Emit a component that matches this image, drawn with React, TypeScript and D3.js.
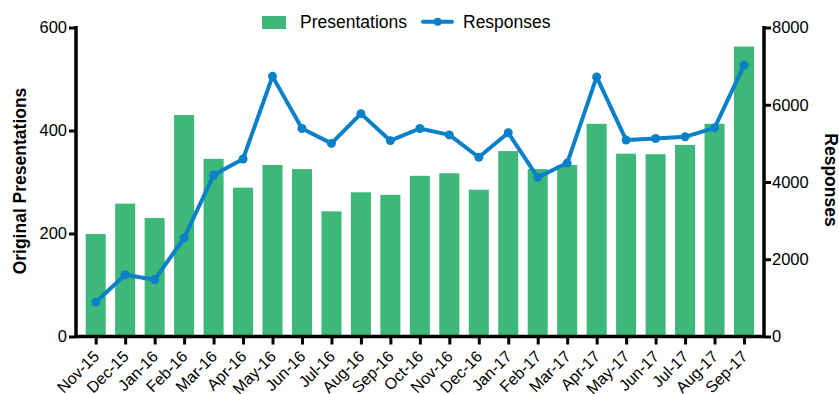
import React, { useEffect, useRef } from "react";
import * as d3 from "d3";

const months = [
  "Nov-15", "Dec-15", "Jan-16", "Feb-16", "Mar-16", "Apr-16", "May-16", "Jun-16",
  "Jul-16", "Aug-16", "Sep-16", "Oct-16", "Nov-16", "Dec-16", "Jan-17", "Feb-17",
  "Mar-17", "Apr-17", "May-17", "Jun-17", "Jul-17", "Aug-17", "Sep-17",
];

const presentations = [
  199, 258, 230, 430, 345, 289, 333, 325, 243, 280, 275, 312, 317, 285, 360, 325,
  333, 413, 355, 354, 372, 413, 563,
];

const responses = [
  885, 1600, 1470, 2550, 4180, 4595, 6735, 5385, 5000, 5770, 5070, 5385, 5220, 4640,
  5275, 4120, 4490, 6720, 5085, 5125, 5170, 5400, 7020,
];

const leftTicks = [0, 200, 400, 600];
const rightTicks = [0, 2000, 4000, 6000, 8000];

const W = 839;
const H = 394;
const FONT = "'Liberation Sans', Arial, Helvetica, sans-serif";
const GREEN = "#3db878";
const BLUE = "#0a80c8";

export default function App() {
  const ref = useRef<SVGSVGElement | null>(null);

  useEffect(() => {
    const svg = d3.select(ref.current);
    svg.selectAll("*").remove();

    const axisLeftX = 76;
    const axisRightX = 764;
    const yBottom = 336.5;
    const yTop = 27.5;

    const x = d3.scalePoint<string>().domain(months).range([95.7, 744]);
    const step = x.step();
    const barW = step * 0.68;

    const yL = d3.scaleLinear().domain([0, 600]).range([yBottom, yTop]);
    const yR = d3.scaleLinear().domain([0, 8000]).range([yBottom, yTop]);

    const g = svg.append("g").attr("font-family", FONT);

    // bars
    g.selectAll("rect.bar")
      .data(presentations)
      .enter()
      .append("rect")
      .attr("class", "bar")
      .attr("x", (_d, i) => (x(months[i]) as number) - barW / 2)
      .attr("width", barW)
      .attr("y", (d) => yL(d))
      .attr("height", (d) => yBottom - yL(d))
      .attr("fill", GREEN);

    // line + markers
    const line = d3
      .line<number>()
      .x((_d, i) => x(months[i]) as number)
      .y((d) => yR(d));

    g.append("path")
      .datum(responses)
      .attr("d", line)
      .attr("fill", "none")
      .attr("stroke", BLUE)
      .attr("stroke-width", 4)
      .attr("stroke-linejoin", "round");

    g.selectAll("circle.pt")
      .data(responses)
      .enter()
      .append("circle")
      .attr("class", "pt")
      .attr("cx", (_d, i) => x(months[i]) as number)
      .attr("cy", (d) => yR(d))
      .attr("r", 4.5)
      .attr("fill", BLUE);

    // left axis
    const left = g.append("g").attr("transform", `translate(${axisLeftX},0)`);
    left
      .call(d3.axisLeft(yL).tickValues(leftTicks).tickSize(7).tickPadding(2))
      .call((s) => s.select(".domain").remove());
    left.selectAll(".tick line").attr("stroke", "#000").attr("stroke-width", 3);
    left
      .selectAll(".tick text")
      .attr("font-size", 16.5)
      .attr("font-family", FONT)
      .attr("fill", "#000");
    left
      .append("line")
      .attr("x1", 0)
      .attr("x2", 0)
      .attr("y1", yTop - 1.5)
      .attr("y2", yBottom + 1.5)
      .attr("stroke", "#000")
      .attr("stroke-width", 3.5);

    // right axis
    const right = g.append("g").attr("transform", `translate(${axisRightX},0)`);
    right
      .call(d3.axisRight(yR).tickValues(rightTicks).tickFormat(d3.format("d")).tickSize(7).tickPadding(1))
      .call((s) => s.select(".domain").remove());
    right.selectAll(".tick line").attr("stroke", "#000").attr("stroke-width", 3);
    right
      .selectAll(".tick text")
      .attr("font-size", 16.5)
      .attr("font-family", FONT)
      .attr("fill", "#000");
    right
      .append("line")
      .attr("x1", 0)
      .attr("x2", 0)
      .attr("y1", yTop - 1.5)
      .attr("y2", yBottom + 1.5)
      .attr("stroke", "#000")
      .attr("stroke-width", 3.5);

    // bottom axis
    const bottom = g.append("g").attr("transform", `translate(0,${yBottom})`);
    bottom
      .call(d3.axisBottom(x).tickSize(8).tickSizeOuter(0))
      .call((s) => s.select(".domain").remove());
    bottom.selectAll(".tick line").attr("stroke", "#000").attr("stroke-width", 3);
    bottom
      .selectAll(".tick text")
      .attr("font-size", 16)
      .attr("font-family", FONT)
      .attr("fill", "#000")
      .attr("text-anchor", "end")
      .attr("dy", null)
      .attr("y", null)
      .attr("transform", "translate(4,21) rotate(-45)");
    bottom
      .append("line")
      .attr("x1", axisLeftX)
      .attr("x2", axisRightX)
      .attr("y1", 0)
      .attr("y2", 0)
      .attr("stroke", "#000")
      .attr("stroke-width", 3.5);

    // axis titles
    g.append("text")
      .attr("transform", `translate(26,181) rotate(-90)`)
      .attr("text-anchor", "middle")
      .attr("font-size", 17.5)
      .attr("font-weight", "bold")
      .text("Original Presentations");

    g.append("text")
      .attr("transform", `translate(825,180) rotate(90)`)
      .attr("text-anchor", "middle")
      .attr("font-size", 17.5)
      .attr("font-weight", "bold")
      .text("Responses");

    // legend
    const lg = g.append("g");
    lg.append("rect").attr("x", 262).attr("y", 16).attr("width", 24).attr("height", 13).attr("fill", GREEN);
    lg.append("text").attr("x", 300).attr("y", 28).attr("font-size", 17.5).text("Presentations");
    lg.append("line")
      .attr("x1", 423)
      .attr("x2", 452)
      .attr("y1", 21.7)
      .attr("y2", 21.7)
      .attr("stroke", BLUE)
      .attr("stroke-width", 4)
      .attr("stroke-linecap", "round");
    lg.append("circle").attr("cx", 437.7).attr("cy", 21.7).attr("r", 4).attr("fill", BLUE);
    lg.append("text").attr("x", 463).attr("y", 28).attr("font-size", 17.5).text("Responses");
  }, []);

  return (
    <svg
      ref={ref}
      width={W}
      height={H}
      style={{ position: "absolute", left: 0, top: 0, background: "#fff" }}
    />
  );
}
